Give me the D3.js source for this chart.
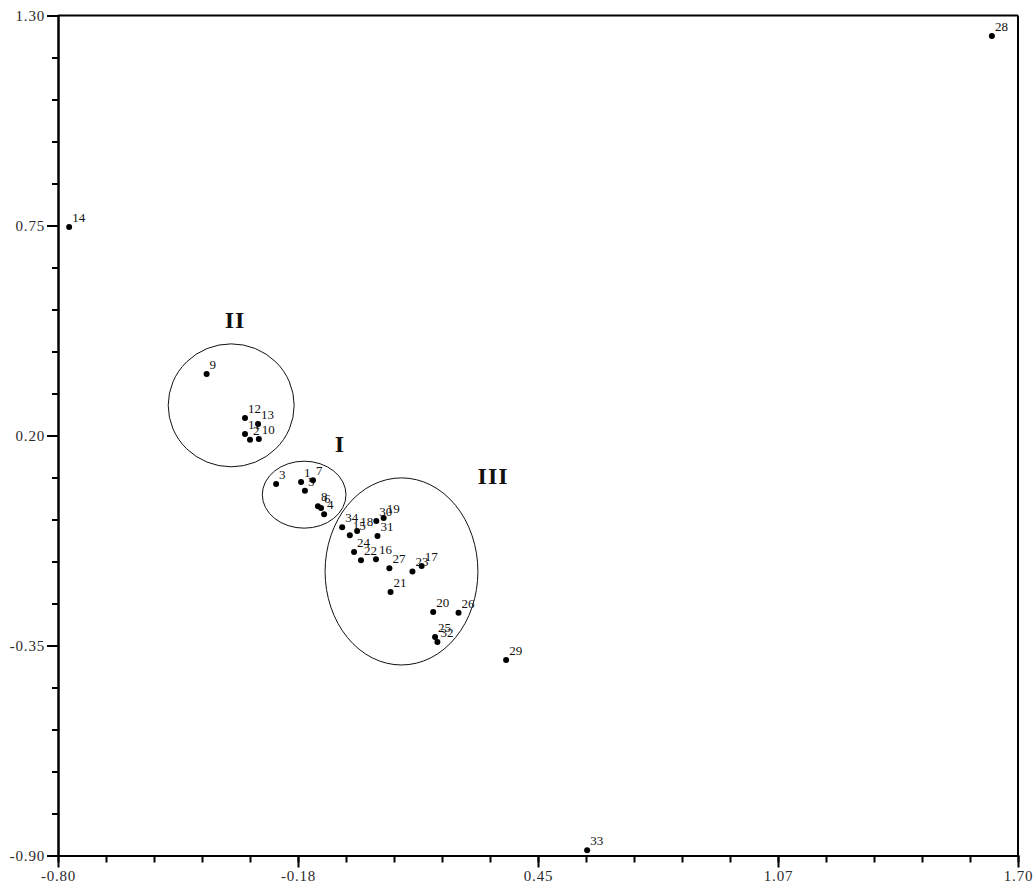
<!DOCTYPE html>
<html>
<head>
<meta charset="utf-8">
<script src="https://cdn.jsdelivr.net/npm/d3@7"></script>
<style>
  html, body { margin: 0; padding: 0; background: #fff; }
  svg { display: block; }
  .tick text { font-family: "Liberation Serif", "Times New Roman", serif; }
</style>
</head>
<body>
<svg id="chart" width="1035" height="886"></svg>
<script>
// Sample identifiers and their coordinates on the two ordination axes
const ids = [1, 2, 3, 4, 5, 6, 7, 8, 9, 10,
             11, 12, 13, 14, 15, 16, 17, 18, 19, 20,
             21, 22, 23, 24, 25, 26, 27, 28, 29, 30,
             31, 32, 33, 34];
const xs  = [-0.167, -0.300, -0.232, -0.107, -0.157, -0.115, -0.136, -0.123, -0.413, -0.277,
             -0.313, -0.313, -0.279, -0.771, -0.040,  0.028,  0.147, -0.021,  0.048,  0.177,
              0.066, -0.011,  0.123, -0.029,  0.182,  0.243,  0.063,  1.632,  0.367,  0.029,
              0.032,  0.188,  0.578, -0.060];
const ys  = [ 0.078,  0.189,  0.073, -0.006,  0.055,  0.010,  0.083,  0.015,  0.361,  0.191,
              0.204,  0.246,  0.230,  0.746, -0.061, -0.124, -0.142, -0.050, -0.016, -0.262,
             -0.210, -0.127, -0.156, -0.105, -0.328, -0.264, -0.148,  1.246, -0.388, -0.024,
             -0.063, -0.341, -0.886, -0.040];

// Group outlines (centre and half-axes in data units) and their roman labels
const groupNames = ["I", "II", "III"];
const groupCx = [-0.159, -0.349, 0.0945];
const groupCy = [ 0.045,  0.279, -0.156];
const groupRx = [ 0.109,  0.164, 0.199];
const groupRy = [ 0.0877, 0.161, 0.245];
const groupLabelX = [-0.066, -0.339, 0.333];
const groupLabelY = [ 0.157,  0.482, 0.073];

// Axis ranges and labelled ticks
const xDomain = [-0.80, 1.70];
const yDomain = [-0.90, 1.30];
const xTickLabels = ["-0.80", "-0.18", "0.45", "1.07", "1.70"];
const yTickLabels = ["-0.90", "-0.35", "0.20", "0.75", "1.30"];
const minorPerMajor = 5;

const svg = d3.select("#chart");
const plotLeft = 58, plotRight = 1018, plotTop = 15.5, plotBottom = 855.5;

const x = d3.scaleLinear().domain(xDomain).range([plotLeft, plotRight]);
const y = d3.scaleLinear().domain(yDomain).range([plotBottom, plotTop]);

const xMajor = xTickLabels.map((_, i) => xDomain[0] + i * (xDomain[1] - xDomain[0]) / (xTickLabels.length - 1));
const yMajor = yTickLabels.map((_, i) => yDomain[0] + i * (yDomain[1] - yDomain[0]) / (yTickLabels.length - 1));
const nMinor = (xTickLabels.length - 1) * minorPerMajor;
const xMinor = d3.range(nMinor + 1).map(i => xDomain[0] + i * (xDomain[1] - xDomain[0]) / nMinor);
const yMinor = d3.range(nMinor + 1).map(i => yDomain[0] + i * (yDomain[1] - yDomain[0]) / nMinor);

// Frame: top and right edges
svg.append("line")
  .attr("x1", x(xDomain[0])).attr("x2", x(xDomain[1]))
  .attr("y1", y(yDomain[1])).attr("y2", y(yDomain[1]))
  .attr("stroke", "#000").attr("stroke-width", 2);
svg.append("line")
  .attr("x1", x(xDomain[1])).attr("x2", x(xDomain[1]))
  .attr("y1", y(yDomain[1])).attr("y2", y(yDomain[0]))
  .attr("stroke", "#000").attr("stroke-width", 2);

function styleAxis(g) {
  g.selectAll("path.domain").attr("stroke", "#000").attr("stroke-width", 2);
  g.selectAll(".tick line").attr("stroke", "#000").attr("stroke-width", 2);
  g.selectAll(".tick text")
    .attr("fill", "#2a2a2a")
    .style("font-size", "15px")
    .style("letter-spacing", "0.8px");
}

// Bottom axis: minor ticks, then labelled major ticks
svg.append("g")
  .attr("transform", `translate(0,${plotBottom})`)
  .call(d3.axisBottom(x).tickValues(xMinor).tickSize(7).tickSizeOuter(0).tickFormat(""))
  .call(styleAxis);
svg.append("g")
  .attr("transform", `translate(0,${plotBottom})`)
  .call(d3.axisBottom(x).tickValues(xMajor).tickSize(12).tickSizeOuter(0)
        .tickPadding(3).tickFormat((d, i) => xTickLabels[i]))
  .call(styleAxis);

// Left axis
svg.append("g")
  .attr("transform", `translate(${plotLeft},0)`)
  .call(d3.axisLeft(y).tickValues(yMinor).tickSize(6).tickSizeOuter(0).tickFormat(""))
  .call(styleAxis);
svg.append("g")
  .attr("transform", `translate(${plotLeft},0)`)
  .call(d3.axisLeft(y).tickValues(yMajor).tickSize(11).tickSizeOuter(0)
        .tickPadding(2).tickFormat((d, i) => yTickLabels[i]))
  .call(styleAxis);

// Group ellipses
const groups = groupNames.map((n, i) => ({
  name: n, cx: groupCx[i], cy: groupCy[i], rx: groupRx[i], ry: groupRy[i],
  lx: groupLabelX[i], ly: groupLabelY[i]
}));

svg.append("g").selectAll("ellipse").data(groups).join("ellipse")
  .attr("cx", d => x(d.cx))
  .attr("cy", d => y(d.cy))
  .attr("rx", d => x(d.cx + d.rx) - x(d.cx))
  .attr("ry", d => y(d.cy) - y(d.cy + d.ry))
  .attr("fill", "none")
  .attr("stroke", "#111")
  .attr("stroke-width", 1);

svg.append("g").selectAll("text").data(groups).join("text")
  .attr("x", d => x(d.lx))
  .attr("y", d => y(d.ly))
  .attr("text-anchor", "middle")
  .attr("font-family", "'Liberation Serif', 'Times New Roman', serif")
  .attr("font-weight", "bold")
  .attr("font-size", 24)
  .attr("letter-spacing", "1px")
  .attr("fill", "#111")
  .text(d => d.name);

// Sample points and their numbers
const points = ids.map((id, i) => ({ id, x: xs[i], y: ys[i] }));

const pg = svg.append("g");
pg.selectAll("circle").data(points).join("circle")
  .attr("cx", d => x(d.x))
  .attr("cy", d => y(d.y))
  .attr("r", 3)
  .attr("fill", "#000");

pg.selectAll("text").data(points).join("text")
  .attr("x", d => x(d.x) + 3)
  .attr("y", d => y(d.y) - 5)
  .attr("font-family", "'Liberation Serif', 'Times New Roman', serif")
  .attr("font-size", 13)
  .attr("fill", "#111")
  .text(d => d.id);
</script>
</body>
</html>
